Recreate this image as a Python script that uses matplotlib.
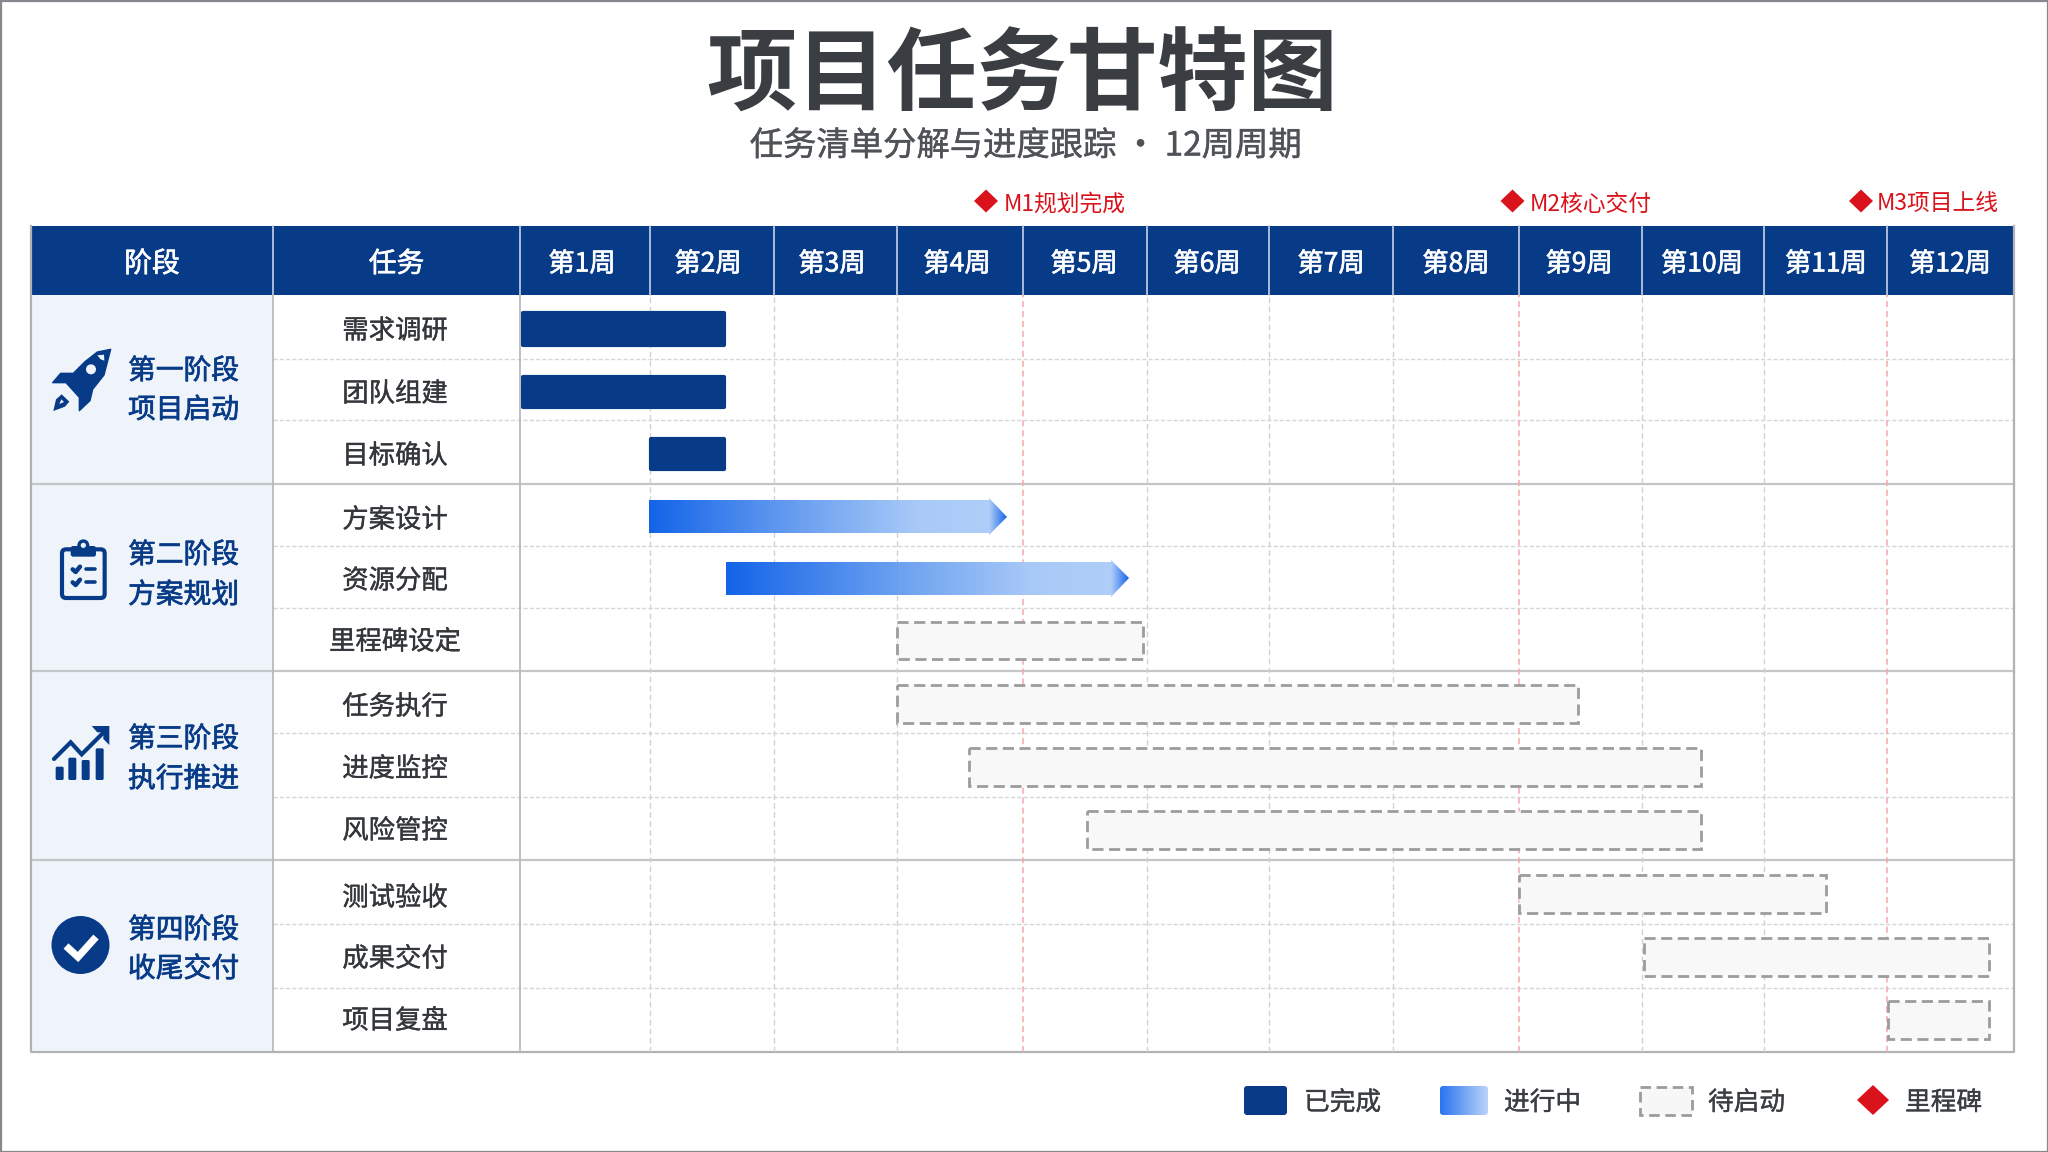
import numpy as np
import matplotlib
matplotlib.use("Agg")
import matplotlib.pyplot as plt
import matplotlib.patheffects as pe
from matplotlib.patches import Rectangle, Polygon, Circle, FancyBboxPatch
from matplotlib.colors import LinearSegmentedColormap
from matplotlib.ticker import NullLocator

plt.rcParams['font.family'] = ['Noto Sans CJK SC', 'DejaVu Sans']

# ---------- data ----------
title = "项目任务甘特图"
subtitle = "任务清单分解与进度跟踪 · 12周周期"
header_left = ["阶段", "任务"]
weeks = ["第1周", "第2周", "第3周", "第4周", "第5周", "第6周", "第7周", "第8周", "第9周", "第10周", "第11周", "第12周"]
stages = [("第一阶段", "项目启动"), ("第二阶段", "方案规划"), ("第三阶段", "执行推进"), ("第四阶段", "收尾交付")]
tasks = ["需求调研", "团队组建", "目标确认", "方案设计", "资源分配", "里程碑设定",
         "任务执行", "进度监控", "风险管控", "测试验收", "成果交付", "项目复盘"]
task_start = [0.0, 0.0, 0.99, 0.99, 1.61, 3.0, 3.0, 3.57, 4.52, 8.0, 9.02, 11.01]
task_end = [1.615, 1.615, 1.615, 3.73, 4.71, 4.97, 8.48, 9.48, 9.48, 10.5, 11.8, 11.8]
task_status = ["done", "done", "done", "active", "active", "todo", "todo", "todo", "todo", "todo", "todo", "todo"]
milestone_names = ["M1规划完成", "M2核心交付", "M3项目上线"]
milestone_weeks = [4, 8, 11]
legend_labels = ["已完成", "进行中", "待启动", "里程碑"]

# ---------- layout (pixels) ----------
W, H = 2048, 1152
week_edges_px = [521, 650, 774, 897, 1023, 1147, 1269, 1393, 1519, 1642, 1764, 1887, 2014]
week_label_px = [582, 708, 832, 957, 1084, 1207, 1331, 1456, 1579, 1702, 1826, 1950]
row_edges_px = [295, 359, 420, 484, 546, 608, 671, 733, 797, 860, 924, 988, 1052]
bar_center_px = [295, 330.5, 392, 454, 517, 578, 640.5, 703.5, 767, 830, 894, 957.5, 1019, 1052]
task_text_y = [328, 391, 453, 517, 578, 639, 704, 766, 828, 895, 956, 1018]
stage_text_y = [(368, 407), (552, 592), (736, 776), (927, 966)]
milestone_diamond_x = [986, 1512.5, 1861]
milestone_text_x = [1004, 1530, 1877]
L, C1, C2, R, T, HB, B = 31, 273, 520, 2014, 226, 295, 1052

NAVY = "#083b87"
TXT = "#33363a"
RED = "#d9121b"
grad = LinearSegmentedColormap.from_list("g", [(0, "#1464e8"), (0.45, "#6ba0f0"), (0.8, "#a8c9f7"), (1, "#aecdf8")])
grad_r = LinearSegmentedColormap.from_list("gr", ["#aecdf8", "#1464e8"])

fig = plt.figure(figsize=(W / 100, H / 100), dpi=100, facecolor="white")

ov = fig.add_axes([0, 0, 1, 1], zorder=1)
ov.set_xlim(0, W)
ov.set_ylim(H, 0)
ov.set_axis_off()


def medium(color, w=0.45):
    return [pe.withStroke(linewidth=w, foreground=color)]


ov.add_patch(Rectangle((0.5, 0.5), W - 1, H - 1, fill=False, ec="#85888c", lw=1.6))

ov.text(1022.5, 77, title, fontsize=65, fontweight="bold", color="#3a3d42", ha="center", va="center")
ov.text(1026, 146, subtitle, fontsize=24, color="#4f5257", ha="center", va="center",
        path_effects=medium("#4f5257", 0.3))

for name, dx, tx in zip(milestone_names, milestone_diamond_x, milestone_text_x):
    ov.add_patch(Polygon([(dx - 12, 201), (dx, 189.5), (dx + 12, 201), (dx, 212.5)], fc=RED, ec="none"))
    ov.text(tx, 201 + 3, name, fontsize=16.4, color=RED, ha="left", va="center")

ov.add_patch(Rectangle((L, T), R - L, HB - T, fc=NAVY, ec="none"))
for x in [C1, C2] + week_edges_px[1:-1]:
    ov.plot([x, x], [T, HB], color="#c5d2e6", lw=1.2)
ov.text((L + C1) / 2, 264, header_left[0], fontsize=20, color="white", ha="center", va="center",
        path_effects=medium("white"))
ov.text((C1 + C2) / 2, 264, header_left[1], fontsize=20, color="white", ha="center", va="center",
        path_effects=medium("white"))
for w, x in zip(weeks, week_label_px):
    ov.text(x, 264, w, fontsize=19, color="white", ha="center", va="center", path_effects=medium("white"))

ov.add_patch(Rectangle((L, HB), C1 - L, B - HB, fc="#eff4fb", ec="none"))

for i, y in enumerate(row_edges_px[1:-1], start=1):
    if i % 3:
        ov.plot([C1, R], [y, y], color="#d4d6da", lw=1, ls=(0, (3, 1.5)))
    else:
        ov.plot([L, R], [y, y], color="#c3c5c9", lw=1.6)
for x in [C1, C2]:
    ov.plot([x, x], [HB, B], color="#b8babe", lw=1.3)
ov.plot([L, L, R, R], [T, B, B, T], color="#b0b2b6", lw=1.6)

for name, y in zip(tasks, task_text_y):
    ov.text(395, y + 3, name, fontsize=19, color=TXT, ha="center", va="center", path_effects=medium(TXT, 0.25))
for (a, b), (ya, yb) in zip(stages, stage_text_y):
    ov.text(183.5, ya + 3, a, fontsize=20, color=NAVY, ha="center", va="center", path_effects=medium(NAVY, 0.5))
    ov.text(183.5, yb + 3, b, fontsize=20, color=NAVY, ha="center", va="center", path_effects=medium(NAVY, 0.5))


def icon_xy(pts, ox, oy):
    return [(ox + px / 3, oy + py / 3) for px, py in pts]


PANEL = "#eff4fb"
rocket = [(212, 28), (172, 36), (135, 65), (100, 100), (62, 100), (38, 128), (78, 128), (118, 172),
          (118, 212), (150, 182), (158, 148), (192, 105)]
ov.add_patch(Polygon(icon_xy(rocket, 40, 340), fc=NAVY, ec=NAVY, lw=1, joinstyle="round"))
ov.add_patch(Polygon(icon_xy([(172, 46), (192, 44), (193, 62), (182, 58)], 40, 340), fc=PANEL, ec="none"))
ov.add_patch(Circle((40 + 153 / 3, 340 + 88 / 3), 5, fc=PANEL, ec="none"))
ov.add_patch(Polygon(icon_xy([(40, 213), (48, 178), (65, 163), (88, 185), (75, 200)], 40, 340), fc=NAVY, ec="none"))
ov.add_patch(Polygon(icon_xy([(58, 192), (64, 178), (72, 186)], 40, 340), fc=PANEL, ec="none"))

ox, oy = 40, 530
ov.add_patch(FancyBboxPatch((ox + 66 / 3, oy + 58 / 3), 128 / 3, 146 / 3, boxstyle="round,pad=0,rounding_size=4",
                            fc="none", ec=NAVY, lw=3))
ov.add_patch(FancyBboxPatch((ox + 92 / 3, oy + 48 / 3), 76 / 3, 32 / 3, boxstyle="round,pad=0,rounding_size=2.5",
                            fc=NAVY, ec="none"))
ov.add_patch(Circle((ox + 130 / 3, oy + 46 / 3), 6, fc=NAVY, ec="none"))
ov.add_patch(Circle((ox + 130 / 3, oy + 46 / 3), 2.6, fc=PANEL, ec="none"))
for yy in (118, 157):
    ov.plot([ox + 138 / 3, ox + 166 / 3], [oy + yy / 3, oy + yy / 3], color=NAVY, lw=2.6, solid_capstyle="round")
    ov.plot([ox + 98 / 3, ox + 107 / 3, ox + 120 / 3], [oy + yy / 3, oy + (yy + 8) / 3, oy + (yy - 8) / 3],
            color=NAVY, lw=3.2, solid_capstyle="round")

ox, oy = 40, 715
for bx, top in [(47, 155), (85, 128), (125, 135), (167, 100)]:
    ov.add_patch(FancyBboxPatch((ox + bx / 3, oy + top / 3), 24 / 3, (195 - top) / 3,
                                boxstyle="round,pad=0,rounding_size=1.5", fc=NAVY, ec="none"))
ov.plot(*zip(*icon_xy([(42, 132), (92, 82), (125, 118), (195, 48)], ox, oy)), color=NAVY, lw=3, solid_capstyle="round",
        solid_joinstyle="miter")
ov.add_patch(Polygon(icon_xy([(155, 33), (208, 33), (208, 90), (190, 72), (190, 52), (172, 52)], ox, oy), fc=NAVY, ec="none"))

ov.add_patch(Circle((80.5, 945), 29, fc=NAVY, ec="none"))
ov.plot([66, 78, 96], [946, 957, 937], color="white", lw=5.2, solid_joinstyle="miter", solid_capstyle="butt")

ov.add_patch(FancyBboxPatch((1246, 1088), 39, 25, boxstyle="round,pad=2,rounding_size=3", fc=NAVY, ec="none"))
lg = np.linspace(0, 1, 64)[None, :]
box = FancyBboxPatch((1442, 1088), 44, 25, boxstyle="round,pad=2,rounding_size=3", fc="none", ec="none")
ov.add_patch(box)
im = ov.imshow(lg, extent=(1440, 1488, 1115, 1086), cmap=LinearSegmentedColormap.from_list("l", ["#2a74ee", "#b9d4f9"]),
               aspect="auto", zorder=2)
im.set_clip_path(box)
ov.set_xlim(0, W)
ov.set_ylim(H, 0)
ov.add_patch(Rectangle((1640, 1087), 52, 28, fc="#f7f7f7", ec="#9c9c9c", lw=2, ls=(0, (3.8, 2))))
ov.add_patch(Polygon([(1857, 1100), (1873, 1085), (1889, 1100), (1873, 1115)], fc=RED, ec="none"))
for lab, x in zip(legend_labels, [1304, 1504, 1708, 1905]):
    ov.text(x, 1103, lab, fontsize=18.5, color="#3a3d42", ha="left", va="center", path_effects=medium("#3a3d42", 0.25))

# ---------- gantt axes: data in week / task units ----------
gx = fig.add_axes([week_edges_px[0] / W, 1 - B / H, (R - week_edges_px[0]) / W, (B - HB) / H], zorder=2)
gx.patch.set_alpha(0)
week_knots = np.arange(13.0)
row_knots = np.r_[-0.5, np.arange(12.0), 11.5]
gx.set_xscale("function", functions=(lambda v: np.interp(v, week_knots, week_edges_px),
                                     lambda p: np.interp(p, week_edges_px, week_knots)))
gx.set_yscale("function", functions=(lambda v: np.interp(v, row_knots, bar_center_px),
                                     lambda p: np.interp(p, bar_center_px, row_knots)))

for wk in range(1, 12):
    if wk in milestone_weeks:
        gx.axvline(wk, color="#f2a9ab", lw=1.1, ls=(0, (4, 2.5)), zorder=1.5)
    else:
        gx.axvline(wk, color="#d2d2d4", lw=1, ls=(0, (4, 2.5)), zorder=1)

SOLID_H, GRAD_H, ARROW_H, TODO_H, ARROW_LEN, M, INSET = 0.48, 0.53, 0.595, 0.60, 0.145, 40, 0.016
for i, (s, e, st) in enumerate(zip(task_start, task_end, task_status)):
    if st == "done":
        gx.barh(i, e - s - 2 * INSET, left=s + INSET, height=SOLID_H, color=NAVY, edgecolor=NAVY, linewidth=3,
                joinstyle="round", zorder=3)
    elif st == "active":
        xs = np.linspace(s, e, 101)
        ys = [i - GRAD_H / 2, i + GRAD_H / 2]
        gx.pcolormesh(xs, ys, np.linspace(0, 1, 100)[None, :], cmap=grad, zorder=3)
        hx = np.linspace(e, e + ARROW_LEN, M + 1)
        hy = [i - ARROW_H / 2, i + ARROW_H / 2]
        mesh = gx.pcolormesh(hx, hy, np.linspace(0, 1, M)[None, :], cmap=grad_r, zorder=3)
        tri = Polygon([(e, i - ARROW_H / 2), (e + ARROW_LEN, i), (e, i + ARROW_H / 2)], transform=gx.transData,
                      fc="none", ec="none")
        gx.add_patch(tri)
        mesh.set_clip_path(tri)
    else:
        gx.barh(i, e - s, left=s, height=TODO_H, color="#f8f8f8", edgecolor="#9c9c9c", linewidth=2,
                linestyle=(0, (4, 2)), zorder=3)

gx.set_xlim(0, 12)
gx.set_ylim(11.5, -0.5)
for ax_ in (gx.xaxis, gx.yaxis):
    ax_.set_major_locator(NullLocator())
    ax_.set_minor_locator(NullLocator())
for sp in gx.spines.values():
    sp.set_visible(False)

fig.savefig("out.png", dpi=100)
